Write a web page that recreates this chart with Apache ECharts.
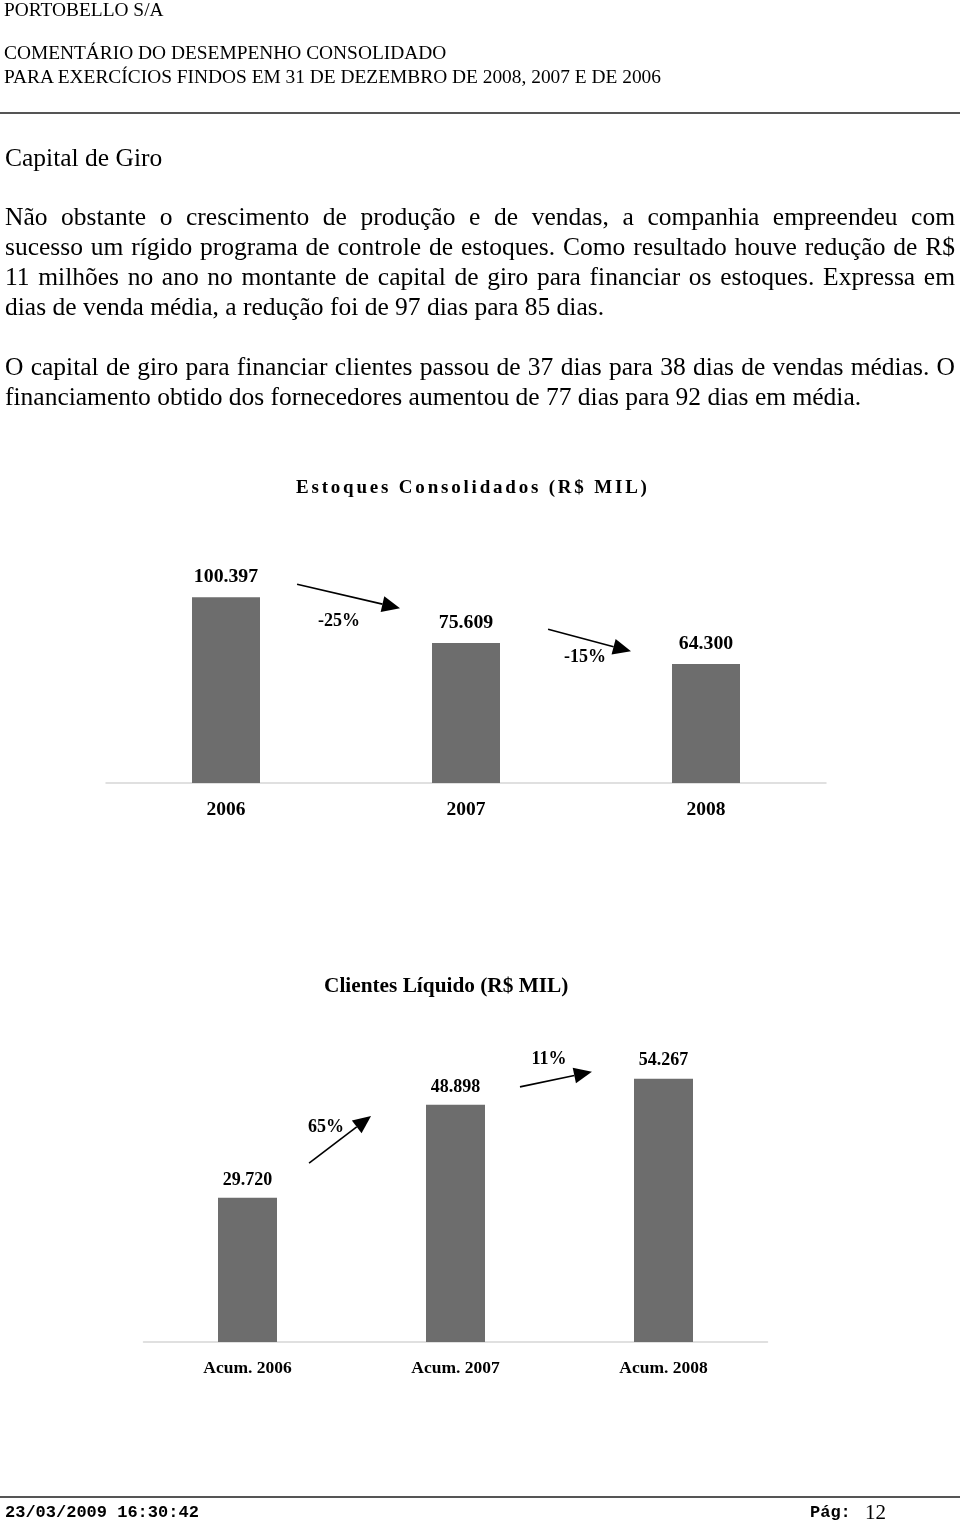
<!DOCTYPE html>
<html><head><meta charset="utf-8">
<script src="https://cdn.jsdelivr.net/npm/echarts@6/dist/echarts.min.js"></script>
<style>
html,body{margin:0;padding:0;background:#fff;}
#page{position:relative;width:960px;height:1523px;overflow:hidden;font-family:"Liberation Serif","Times New Roman",serif;color:#000;}
#chart{position:absolute;left:0;top:0;width:960px;height:1523px;}
.t{position:absolute;white-space:nowrap;}
.hd{font-size:19.4px;height:24px;line-height:24px;left:4px;}
.ln{position:absolute;left:5px;width:950px;font-size:25.5px;height:30px;line-height:30px;white-space:nowrap;}
.j{text-align:justify;text-align-last:justify;}
.rule{position:absolute;left:0;width:960px;height:2px;background:#555;}
.ctitle{position:absolute;font-weight:bold;font-size:19px;height:26px;line-height:26px;white-space:nowrap;}
.mono{font-family:"Liberation Mono","Courier New",monospace;font-weight:bold;font-size:17px;}
</style></head>
<body><div id="page">
<div id="chart"></div>
<div class="t hd" style="top:-2px">PORTOBELLO S/A</div>
<div class="t hd" style="top:41px">COMENTÁRIO DO DESEMPENHO CONSOLIDADO</div>
<div class="t hd" style="top:65px">PARA EXERCÍCIOS FINDOS EM 31 DE DEZEMBRO DE 2008, 2007 E DE 2006</div>
<div class="rule" style="top:112px"></div>
<div class="ln" style="top:143px">Capital de Giro</div>
<div class="ln j" style="top:202px">Não obstante o crescimento de produção e de vendas, a companhia empreendeu com</div>
<div class="ln j" style="top:232px">sucesso um rígido programa de controle de estoques. Como resultado houve redução de R$</div>
<div class="ln j" style="top:262px">11 milhões no ano no montante de capital de giro para financiar os estoques. Expressa em</div>
<div class="ln" style="top:292px">dias de venda média, a redução foi de 97 dias para 85 dias.</div>
<div class="ln j" style="top:352px">O capital de giro para financiar clientes passou de 37 dias para 38 dias de vendas médias. O</div>
<div class="ln" style="top:382px">financiamento obtido dos fornecedores aumentou de 77 dias para 92 dias em média.</div>
<div class="ctitle" style="top:474px;left:296px;letter-spacing:2.8px">Estoques Consolidados (R$ MIL)</div>
<div class="ctitle" style="top:972px;left:324px;font-size:21.3px">Clientes Líquido (R$ MIL)</div>
<div class="rule" style="top:1496px"></div>
<div class="t mono" style="left:5px;top:1502px;line-height:22px">23/03/2009 16:30:42</div>
<div class="t mono" style="left:810px;top:1502px;line-height:22px">Pág:</div>
<div class="t" style="left:865px;top:1500px;font-size:21px;line-height:24px">12</div>
</div>
<script>
const stockCategories = ['2006', '2007', '2008'];
const stockValues = [100.397, 75.609, 64.300];
const stockChanges = ['-25%', '-15%'];
const clientCategories = ['Acum. 2006', 'Acum. 2007', 'Acum. 2008'];
const clientValues = [29.720, 48.898, 54.267];
const clientChanges = ['65%', '11%'];

// annotation geometry in data space: [category position, value]
const stockArrowGeom = [
  {from: [0.296, 107.4], to: [0.725, 94.5], text: [0.471, 87.4]},
  {from: [1.342, 83.1], to: [1.6875, 71.2], text: [1.496, 68.0]}
];
const clientArrowGeom = [
  {from: [0.296, 36.9], to: [0.594, 46.6], text: [0.377, 44.2]},
  {from: [1.31, 52.6], to: [1.656, 55.7], text: [1.45, 58.2]}
];

const FONT = '"Liberation Serif","Times New Roman",serif';
const BAR = '#6d6d6d';
const chart = echarts.init(document.getElementById('chart'), null, {renderer: 'canvas'});

function fmt(p) { return p.value.toFixed(3); }
function xAxisFor(g, data, margin, size) {
  return {
    type: 'category', gridIndex: g, data: data,
    axisLine: {lineStyle: {color: '#d6d6d6', width: 1.5}},
    axisTick: {show: false},
    axisLabel: {color: '#000', fontFamily: FONT, fontWeight: 'bold', fontSize: size, margin: margin}
  };
}
chart.setOption({
  animation: false,
  grid: [
    {left: 106, width: 720, top: 561, height: 222},
    {left: 143.5, width: 624, top: 1051, height: 291}
  ],
  xAxis: [xAxisFor(0, stockCategories, 17, 19.5), xAxisFor(1, clientCategories, 17, 17.5)],
  yAxis: [
    {type: 'value', gridIndex: 0, min: 0, max: 120, show: false},
    {type: 'value', gridIndex: 1, min: 0, max: 60, show: false}
  ],
  series: [
    {type: 'bar', xAxisIndex: 0, yAxisIndex: 0, data: stockValues, barWidth: 68,
     itemStyle: {color: BAR},
     label: {show: true, position: 'top', distance: 10, formatter: fmt, color: '#000', fontFamily: FONT, fontWeight: 'bold', fontSize: 19.8}},
    {type: 'bar', xAxisIndex: 1, yAxisIndex: 1, data: clientValues, barWidth: 59,
     itemStyle: {color: BAR},
     label: {show: true, position: 'top', distance: 9, formatter: fmt, color: '#000', fontFamily: FONT, fontWeight: 'bold', fontSize: 18}}
  ]
});

function px(g, pos) {
  const a = chart.convertToPixel({gridIndex: g}, [0, pos[1]]);
  const b = chart.convertToPixel({gridIndex: g}, [1, pos[1]]);
  return [a[0] + (b[0] - a[0]) * pos[0], a[1]];
}
const elements = [];
function addArrows(g, geoms, texts) {
  geoms.forEach((ag, i) => {
    const s = px(g, ag.from), e = px(g, ag.to), t = px(g, ag.text);
    const dx = e[0] - s[0], dy = e[1] - s[1];
    const L = Math.sqrt(dx * dx + dy * dy);
    const ux = dx / L, uy = dy / L;
    const head = 18, hw = 8;
    const bx = e[0] - ux * head, by = e[1] - uy * head;
    elements.push({type: 'line', shape: {x1: s[0], y1: s[1], x2: bx, y2: by}, style: {stroke: '#000', lineWidth: 1.6}});
    elements.push({type: 'polygon', shape: {points: [[e[0], e[1]], [bx - uy * hw, by + ux * hw], [bx + uy * hw, by - ux * hw]]}, style: {fill: '#000'}});
    elements.push({type: 'text', x: t[0], y: t[1], style: {text: texts[i], font: 'bold 18px ' + FONT, fill: '#000', align: 'center', verticalAlign: 'middle'}});
  });
}
addArrows(0, stockArrowGeom, stockChanges);
addArrows(1, clientArrowGeom, clientChanges);
chart.setOption({graphic: elements});
</script>
</body></html>
